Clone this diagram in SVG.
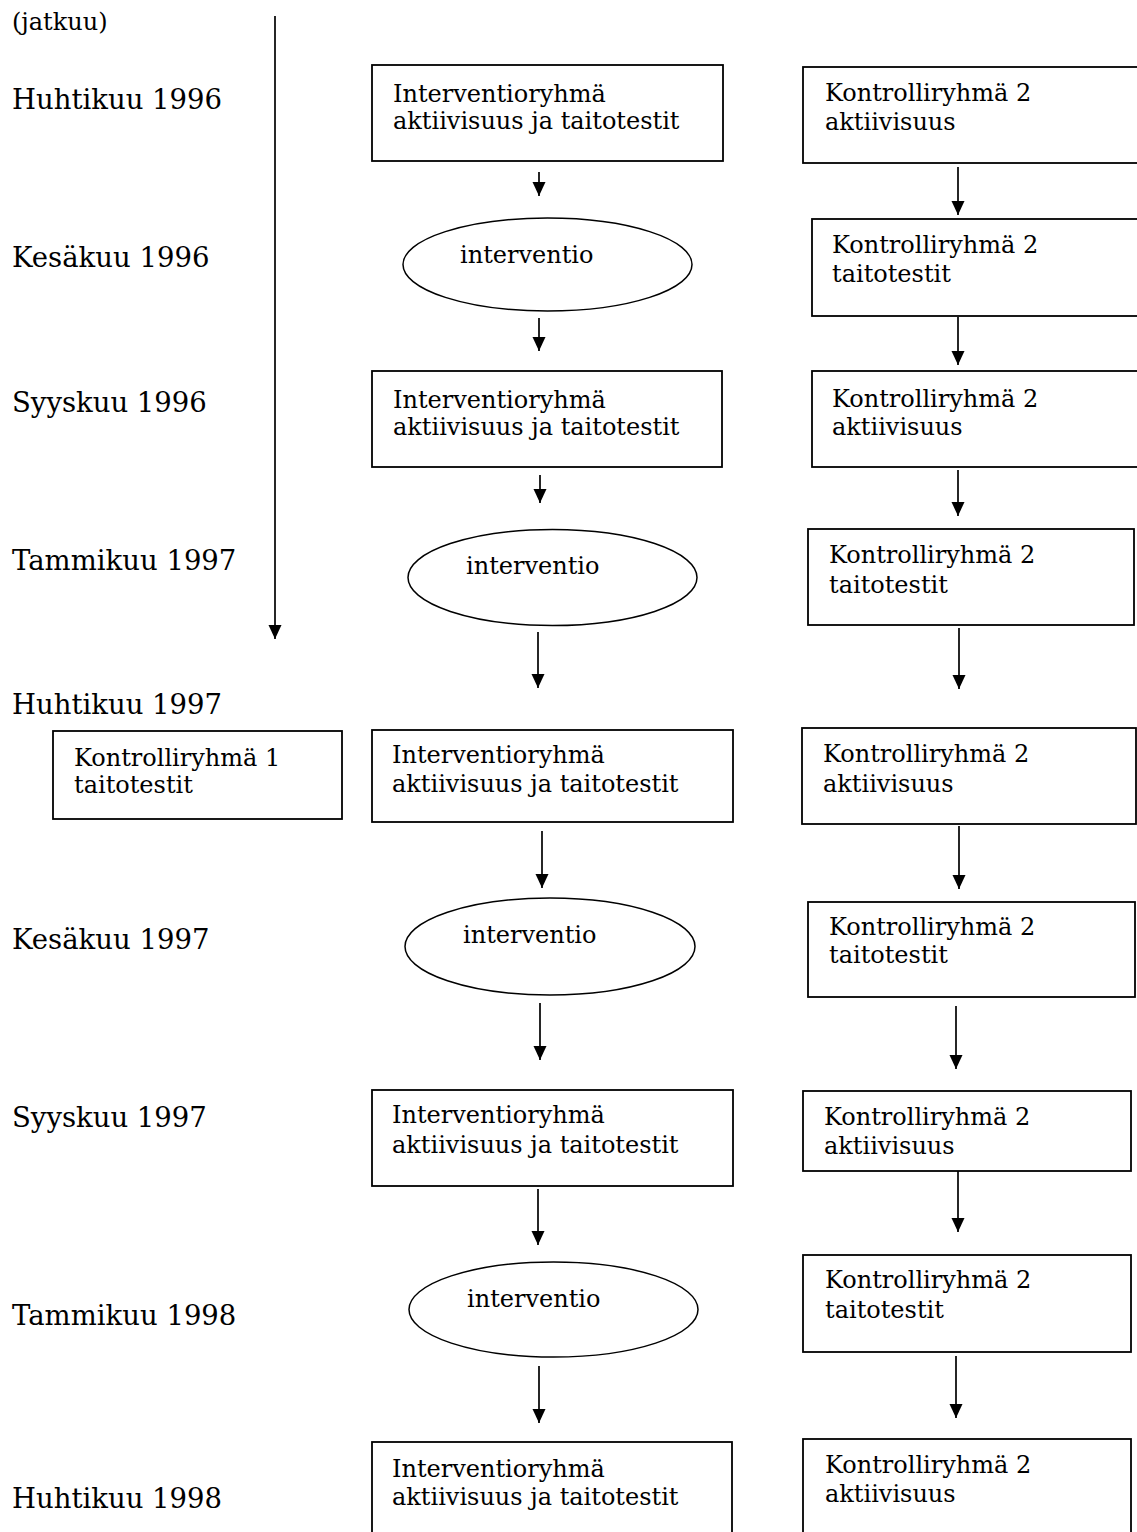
<svg xmlns="http://www.w3.org/2000/svg" width="1137" height="1532" viewBox="0 0 1137 1532">
<defs>
<style>
text{font-family:"DejaVu Serif","Liberation Serif",serif;fill:#000}
.lbl{font-size:27.5px}
.bt{font-size:24px}
.box{fill:#fff;stroke:#000;stroke-width:1.8}
.ell{fill:#fff;stroke:#000;stroke-width:1.5}
.con line{stroke:#000;stroke-width:1.7;marker-end:url(#ah)}
</style>
<marker id="ah" markerUnits="userSpaceOnUse" markerWidth="15" markerHeight="14" refX="14" refY="6.5" orient="auto">
<path d="M0,0 L14,6.5 L0,13 z" fill="#000"/>
</marker>
</defs>
<rect width="1137" height="1532" fill="#fff"/>

<g id="labels">
<text x="12" y="30" font-size="24">(jatkuu)</text>
<text class="lbl" x="12" y="109">Huhtikuu 1996</text>
<text class="lbl" x="12" y="267">Kesäkuu 1996</text>
<text class="lbl" x="12" y="412">Syyskuu 1996</text>
<text class="lbl" x="12" y="570">Tammikuu 1997</text>
<text class="lbl" x="12" y="714">Huhtikuu 1997</text>
<text class="lbl" x="12" y="949">Kesäkuu 1997</text>
<text class="lbl" x="12" y="1127">Syyskuu 1997</text>
<text class="lbl" x="12" y="1325">Tammikuu 1998</text>
<text class="lbl" x="12" y="1508">Huhtikuu 1998</text>
</g>

<g id="i1"><rect class="box" x="372" y="65" width="351" height="96"/><text class="bt" x="393" y="102">Interventioryhmä</text><text class="bt" x="393" y="129">aktiivisuus ja taitotestit</text></g>
<g id="e1"><ellipse class="ell" cx="547.5" cy="264.5" rx="144.5" ry="46.5"/><text class="bt" x="460" y="263">interventio</text></g>
<g id="i2"><rect class="box" x="372" y="371" width="350" height="96"/><text class="bt" x="393" y="408">Interventioryhmä</text><text class="bt" x="393" y="435">aktiivisuus ja taitotestit</text></g>
<g id="e2"><ellipse class="ell" cx="552.5" cy="577.5" rx="144.5" ry="48"/><text class="bt" x="466" y="574">interventio</text></g>
<g id="i3"><rect class="box" x="372" y="730" width="361" height="92"/><text class="bt" x="392" y="763">Interventioryhmä</text><text class="bt" x="392" y="792">aktiivisuus ja taitotestit</text></g>
<g id="e3"><ellipse class="ell" cx="550" cy="946.5" rx="145" ry="48.5"/><text class="bt" x="463" y="943">interventio</text></g>
<g id="i4"><rect class="box" x="372" y="1090" width="361" height="96"/><text class="bt" x="392" y="1123">Interventioryhmä</text><text class="bt" x="392" y="1153">aktiivisuus ja taitotestit</text></g>
<g id="e4"><ellipse class="ell" cx="553.5" cy="1309.5" rx="144.5" ry="47.5"/><text class="bt" x="467" y="1307">interventio</text></g>
<g id="i5"><rect class="box" x="372" y="1442" width="360" height="110"/><text class="bt" x="392" y="1477">Interventioryhmä</text><text class="bt" x="392" y="1505">aktiivisuus ja taitotestit</text></g>

<g id="k1"><rect class="box" x="53" y="731" width="289" height="88"/><text class="bt" x="74" y="766">Kontrolliryhmä 1</text><text class="bt" x="74" y="793">taitotestit</text></g>

<g id="r1"><rect class="box" x="803" y="67" width="340" height="96"/><text class="bt" x="825" y="101">Kontrolliryhmä 2</text><text class="bt" x="825" y="130">aktiivisuus</text></g>
<g id="r2"><rect class="box" x="812" y="219" width="330" height="97"/><text class="bt" x="832" y="253">Kontrolliryhmä 2</text><text class="bt" x="832" y="282">taitotestit</text></g>
<g id="r3"><rect class="box" x="812" y="371" width="330" height="96"/><text class="bt" x="832" y="407">Kontrolliryhmä 2</text><text class="bt" x="832" y="435">aktiivisuus</text></g>
<g id="r4"><rect class="box" x="808" y="529" width="326" height="96"/><text class="bt" x="829" y="563">Kontrolliryhmä 2</text><text class="bt" x="829" y="593">taitotestit</text></g>
<g id="r5"><rect class="box" x="802" y="728" width="334" height="96"/><text class="bt" x="823" y="762">Kontrolliryhmä 2</text><text class="bt" x="823" y="792">aktiivisuus</text></g>
<g id="r6"><rect class="box" x="808" y="902" width="327" height="95"/><text class="bt" x="829" y="935">Kontrolliryhmä 2</text><text class="bt" x="829" y="963">taitotestit</text></g>
<g id="r7"><rect class="box" x="803" y="1091" width="328" height="80"/><text class="bt" x="824" y="1125">Kontrolliryhmä 2</text><text class="bt" x="824" y="1154">aktiivisuus</text></g>
<g id="r8"><rect class="box" x="803" y="1255" width="328" height="97"/><text class="bt" x="825" y="1288">Kontrolliryhmä 2</text><text class="bt" x="825" y="1318">taitotestit</text></g>
<g id="r9"><rect class="box" x="803" y="1439" width="328" height="110"/><text class="bt" x="825" y="1473">Kontrolliryhmä 2</text><text class="bt" x="825" y="1502">aktiivisuus</text></g>

<g id="connectors" class="con">
<line x1="275" y1="16" x2="275" y2="639"/>
<line x1="539" y1="172" x2="539" y2="196"/>
<line x1="539" y1="318" x2="539" y2="351"/>
<line x1="540" y1="475" x2="540" y2="503"/>
<line x1="538" y1="632" x2="538" y2="688"/>
<line x1="542" y1="831" x2="542" y2="888"/>
<line x1="540" y1="1003" x2="540" y2="1060"/>
<line x1="538" y1="1189" x2="538" y2="1245"/>
<line x1="539" y1="1366" x2="539" y2="1423"/>
<line x1="958" y1="167" x2="958" y2="215"/>
<line x1="958" y1="317" x2="958" y2="365"/>
<line x1="958" y1="470" x2="958" y2="516"/>
<line x1="959" y1="628" x2="959" y2="689"/>
<line x1="959" y1="826" x2="959" y2="889"/>
<line x1="956" y1="1006" x2="956" y2="1069"/>
<line x1="958" y1="1171" x2="958" y2="1232"/>
<line x1="956" y1="1356" x2="956" y2="1418"/>
</g>
</svg>
